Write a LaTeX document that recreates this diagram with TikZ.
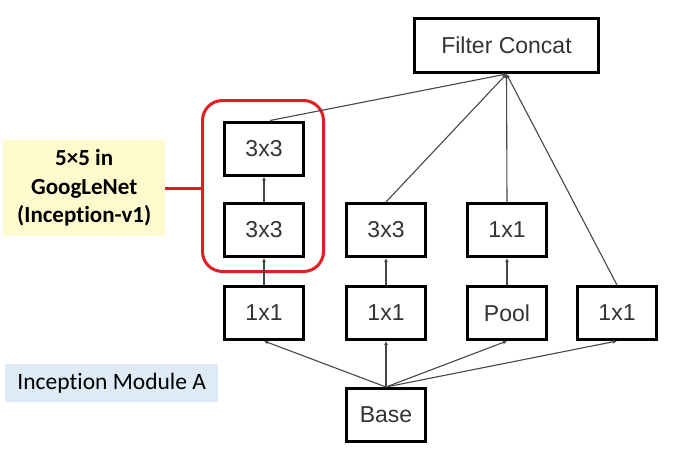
\documentclass[tikz,border=0pt]{standalone}
\usepackage{fontspec}
\setmainfont{Liberation Sans}
\newfontfamily\calibri[Ligatures=NoCommon]{Carlito}
\usetikzlibrary{arrows.meta}
\definecolor{txt}{RGB}{51,51,51}
\definecolor{linegray}{RGB}{70,70,70}
\definecolor{hlred}{RGB}{224,30,36}
\definecolor{noteyellow}{RGB}{255,250,205}
\definecolor{noteblue}{RGB}{222,235,247}
\tikzset{
  layerbox/.style={draw=black, line width=3pt, fill=white, minimum width=79pt, minimum height=53pt, inner sep=0pt, text=txt, font=\fontsize{23}{26}\selectfont},
  conn/.style={draw=linegray, line width=1.1pt, -{Latex[length=4pt,width=4pt]}},
}
\begin{document}
\begin{tikzpicture}[x=1pt,y=-1pt]
\useasboundingbox (0,0) rectangle (677,456);
% notes
\node[fill=noteblue, minimum width=213pt, minimum height=38pt, inner sep=0pt, anchor=north west, font=\calibri\fontsize{23.5}{26}\selectfont, text=black] (lblA) at (5,364) {Inception Module A};
\node[fill=noteyellow, minimum width=162pt, minimum height=96pt, inner sep=0pt, anchor=north west, align=center, font=\calibri\bfseries\fontsize{23}{28.5}\selectfont, text=black] (note) at (3,140) {5×5 in\\GoogLeNet\\(Inception-v1)};
% boxes
\node[layerbox, minimum width=184pt, minimum height=54pt] (concat) at (506.5,45.5) {Filter Concat};
\node[layerbox] (a3) at (264,148.5) {3x3};
\node[layerbox] (a2) at (264,230) {3x3};
\node[layerbox] (a1) at (264,313) {1x1};
\node[layerbox] (b2) at (386,230) {3x3};
\node[layerbox] (b1) at (386,313) {1x1};
\node[layerbox] (c2) at (507,230) {1x1};
\node[layerbox] (c1) at (507,313) {Pool};
\node[layerbox] (d1) at (617,313) {1x1};
\node[layerbox] (base) at (386,415) {Base};
% highlight
\coordinate (rtl) at (202.5,100.5);
\coordinate (rbr) at (323.5,271.5);
\draw[hlred, line width=3pt, rounded corners=20pt] (rtl) rectangle (rbr);
\coordinate (rleft) at (202.5,188);
\draw[hlred, line width=3pt] (note.east |- rleft) -- (rleft);
% connectors
\draw[conn] (base.north) -- (a1.south);
\draw[conn] (base.north) -- (b1.south);
\draw[conn] (base.north) -- (c1.south);
\draw[conn] (base.north) -- (d1.south);
\draw[conn] (a1.north) -- (a2.south);
\draw[conn] (a2.north) -- (a3.south);
\draw[conn] (b1.north) -- (b2.south);
\draw[conn] (c1.north) -- (c2.south);
\draw[conn] ([xshift=6pt]a3.north) -- (concat.south);
\draw[conn] (b2.north) -- (concat.south);
\draw[conn] (c2.north) -- (concat.south);
\draw[conn] (d1.north) -- (concat.south);
\end{tikzpicture}
\end{document}
